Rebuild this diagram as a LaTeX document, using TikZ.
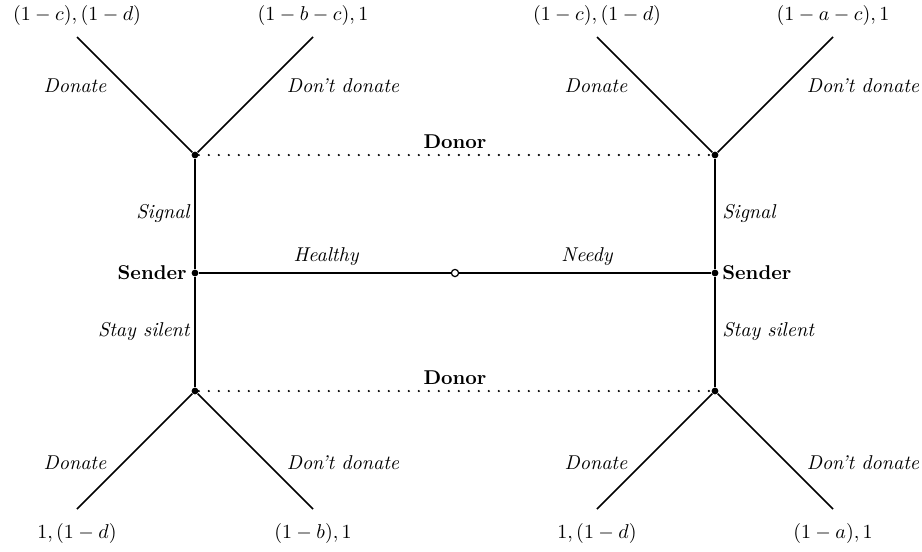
\documentclass[tikz,border=0pt]{standalone}
\begin{document}
\begin{tikzpicture}[x=0.5pt,y=-0.5pt,
  edge/.style={line width=0.8pt},
  info/.style={line width=1.2pt, dash pattern=on 0pt off 5pt, line cap=round},
  dec/.style={circle, fill, inner sep=0pt, minimum size=3.4pt},
  chance/.style={circle, draw, fill=white, inner sep=0pt, minimum size=3.6pt, line width=0.6pt},
  act/.style={font=\itshape, inner sep=0pt},
  player/.style={font=\bfseries, inner sep=0pt},
  pay/.style={inner sep=0pt}
]
\useasboundingbox (0,0) rectangle (922,552);
% decision nodes
\node[chance] (c) at (455,273) {};
\node[dec] (sL) at (195,273) {};
\node[dec] (sR) at (715,273) {};
\node[dec] (dTL) at (195,155) {};
\node[dec] (dTR) at (715,155) {};
\node[dec] (dBL) at (195,391) {};
\node[dec] (dBR) at (715,391) {};
% leaf ends
\coordinate (lTL1) at (77,37);
\coordinate (lTL2) at (313,37);
\coordinate (lTR1) at (597,37);
\coordinate (lTR2) at (833,37);
\coordinate (lBL1) at (77,509);
\coordinate (lBL2) at (313,509);
\coordinate (lBR1) at (597,509);
\coordinate (lBR2) at (833,509);
% edges
\draw[edge] (c) -- (sL);
\draw[edge] (c) -- (sR);
\draw[edge] (sL) -- (dTL);
\draw[edge] (sL) -- (dBL);
\draw[edge] (sR) -- (dTR);
\draw[edge] (sR) -- (dBR);
\draw[edge] (dTL) -- (lTL1);
\draw[edge] (dTL) -- (lTL2);
\draw[edge] (dTR) -- (lTR1);
\draw[edge] (dTR) -- (lTR2);
\draw[edge] (dBL) -- (lBL1);
\draw[edge] (dBL) -- (lBL2);
\draw[edge] (dBR) -- (lBR1);
\draw[edge] (dBR) -- (lBR2);
% information sets
\draw[info] (dTL) -- (dTR);
\draw[info] (dBL) -- (dBR);
% payoffs
\node[pay] (pTL1) at (77,15) {$(1-c),(1-d)$};
\node[pay] (pTL2) at (313,15) {$(1-b-c),1$};
\node[pay] (pTR1) at (597,15) {$(1-c),(1-d)$};
\node[pay] (pTR2) at (833,15) {$(1-a-c),1$};
\node[pay] (pBL1) at (77,533) {$1,(1-d)$};
\node[pay] (pBL2) at (313,533) {$(1-b),1$};
\node[pay] (pBR1) at (597,533) {$1,(1-d)$};
\node[pay] (pBR2) at (833,533) {$(1-a),1$};
% action labels
\node[act] (aTL1) at (75,86) {Donate};
\node[act] (aTL2) at (343,86) {Don't donate};
\node[act] (aTR1) at (596,86) {Donate};
\node[act] (aTR2) at (863,86) {Don't donate};
\node[act] (aBL1) at (75,463) {Donate};
\node[act] (aBL2) at (343,463) {Don't donate};
\node[act] (aBR1) at (596,463) {Donate};
\node[act] (aBR2) at (863,463) {Don't donate};
\node[act, anchor=east] (sigL) at (190,213) {Signal};
\node[act, anchor=west] (sigR) at (722,213) {Signal};
\node[act, anchor=east] (silL) at (190,331) {Stay silent};
\node[act, anchor=west] (silR) at (722,331) {Stay silent};
\node[act] (hl) at (326,257) {Healthy};
\node[act] (nd) at (587,257) {Needy};
% players
\node[player, anchor=east] (plL) at (187,273) {Sender};
\node[player, anchor=west] (plR) at (722,273) {Sender};
\node[player] (doT) at (455,142) {Donor};
\node[player] (doB) at (455,378) {Donor};
\end{tikzpicture}
\end{document}
